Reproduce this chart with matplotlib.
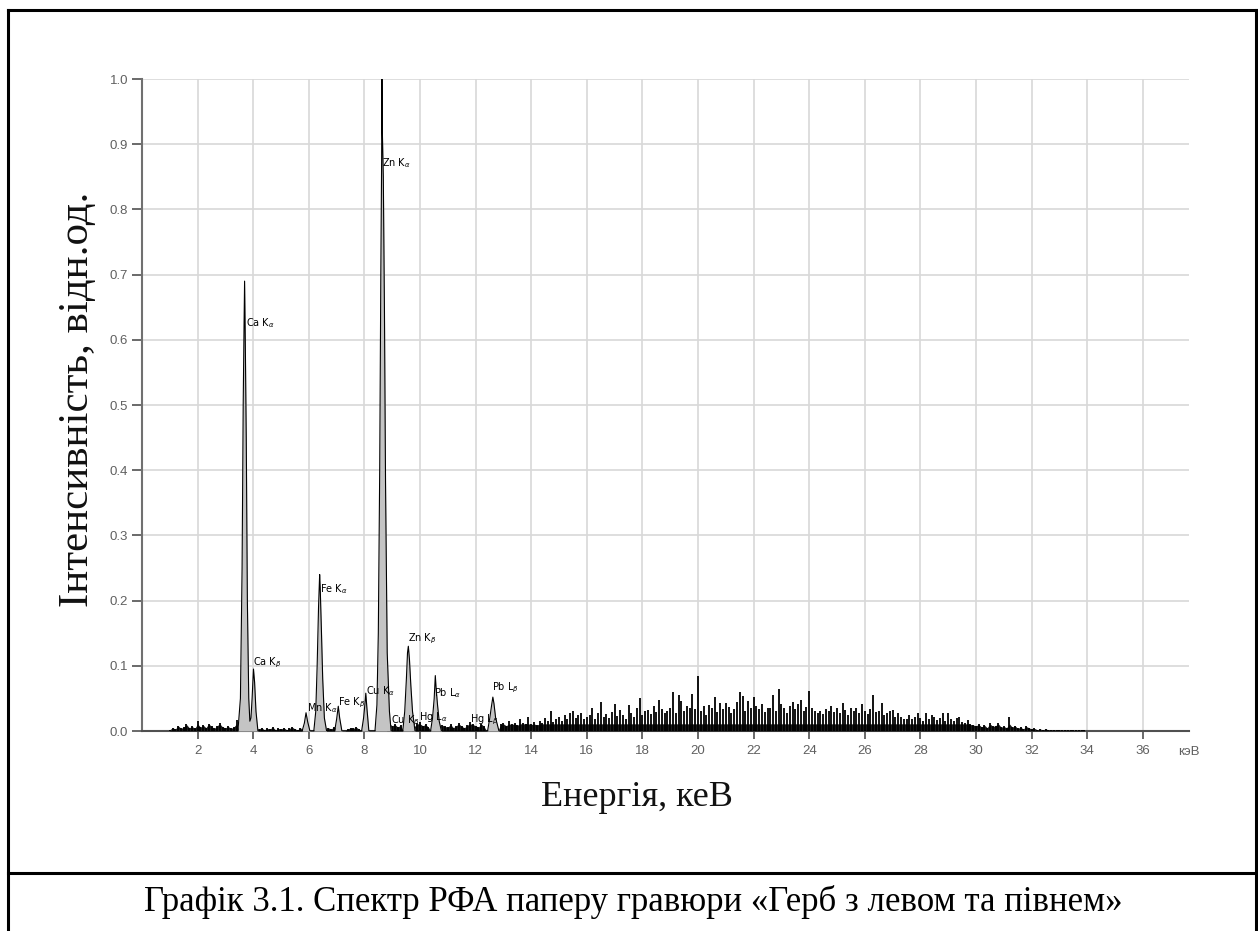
import numpy as np
import matplotlib
matplotlib.use("Agg")
from matplotlib import pyplot as plt
from matplotlib.lines import Line2D

# peak outlines (keV, relative intensity), zero at every base
peak_e = [3.45, 3.54, 3.60, 3.64, 3.67, 3.69, 3.71, 3.75, 3.79, 3.84, 3.88,
          3.92, 3.96, 4.01, 4.05, 4.10, 4.17,
          5.76, 5.84, 5.90, 5.96, 6.04,
          6.18, 6.25, 6.30, 6.35, 6.39, 6.41, 6.45, 6.50, 6.56, 6.64,
          6.93, 7.00, 7.06, 7.11, 7.19,
          7.90, 7.97, 8.02, 8.05, 8.09, 8.16,
          8.38, 8.45, 8.50, 8.55, 8.59, 8.62, 8.63, 8.64, 8.68, 8.72, 8.76, 8.82, 8.90, 8.96,
          9.38, 9.45, 9.51, 9.55, 9.58, 9.62, 9.67, 9.73, 9.82,
          10.38, 10.45, 10.51, 10.55, 10.58, 10.63, 10.69, 10.77,
          12.43, 12.51, 12.57, 12.62, 12.66, 12.72, 12.84]
peak_i = [0.0, 0.05, 0.25, 0.50, 0.62, 0.69, 0.62, 0.45, 0.20, 0.05, 0.015,
          0.02, 0.05, 0.095, 0.075, 0.03, 0.0,
          0.0, 0.012, 0.028, 0.014, 0.0,
          0.0, 0.03, 0.10, 0.19, 0.24, 0.22, 0.16, 0.08, 0.02, 0.0,
          0.0, 0.018, 0.038, 0.02, 0.0,
          0.0, 0.02, 0.042, 0.058, 0.035, 0.0,
          0.0, 0.04, 0.15, 0.40, 0.70, 0.88, 1.0, 0.93, 0.85, 0.65, 0.38, 0.12, 0.03, 0.0,
          0.0, 0.03, 0.08, 0.12, 0.13, 0.11, 0.07, 0.03, 0.0,
          0.0, 0.02, 0.05, 0.085, 0.065, 0.04, 0.015, 0.0,
          0.0, 0.02, 0.038, 0.052, 0.042, 0.02, 0.0]

# background spikes, one per 0.1 keV from 1.0 keV, in thousandths
noise_start = 1.0
noise = [2, 5, 3, 8, 4, 6, 10, 5, 7, 4,
         15, 6, 9, 5, 11, 7, 4, 8, 12, 6,
         5, 7, 4, 6, 17, 0, 0, 0, 0, 0,
         0, 0, 3, 5, 2, 4, 3, 6, 2, 4,
         3, 5, 2, 4, 6, 3, 2, 5, 0, 0,
         0, 0, 0, 0, 0, 0, 0, 5, 3, 6,
         4, 0, 0, 0, 3, 5, 4, 6, 3, 0,
         0, 0, 0, 0, 0, 0, 0, 0, 0, 12,
         8, 10, 6, 9, 0, 0, 0, 0, 7, 12,
         14, 8, 10, 6, 0, 0, 0, 0, 9, 7,
         6, 10, 5, 8, 12, 7, 5, 9, 14, 10,
         8, 6, 11, 7, 0, 0, 0, 0, 0, 10,
         12, 8, 15, 10, 13, 9, 18, 12, 11, 22,
         10, 14, 9, 16, 12, 20, 15, 31, 14, 18,
         22, 16, 25, 19, 28, 31, 20, 24, 27, 18,
         21, 25, 36, 19, 27, 44, 22, 26, 20, 29,
         41, 23, 32, 25, 19, 40, 28, 22, 35, 50,
         24, 30, 32, 26, 38, 29, 47, 33, 27, 31,
         36, 60, 28, 55, 46, 30, 39, 35, 56, 34,
         85, 30, 38, 24, 40, 36, 52, 29, 43, 33,
         43, 37, 28, 34, 45, 60, 53, 30, 46, 35,
         52, 38, 33, 41, 29, 36, 35, 55, 30, 64,
         42, 36, 28, 39, 45, 33, 41, 48, 30, 37,
         62, 35, 31, 28, 31, 26, 33, 30, 38, 29,
         36, 27, 43, 32, 25, 36, 30, 35, 28, 41,
         30, 26, 34, 55, 29, 31, 43, 25, 27, 30,
         32, 22, 28, 21, 19, 19, 24, 18, 22, 27,
         20, 16, 27, 18, 25, 22, 17, 20, 27, 15,
         27, 18, 16, 20, 21, 14, 12, 17, 10, 9,
         8, 10, 6, 9, 5, 13, 7, 8, 12, 6,
         7, 5, 21, 6, 8, 4, 6, 3, 7, 5,
         3, 4, 2, 3, 2, 3, 2, 2, 2, 1,
         2, 1, 2, 1, 2, 1, 1, 2, 1, 1]

# line labels: text, keV, intensity
line_names = [r"Ca K$_\alpha$", r"Ca K$_\beta$", r"Mn K$_\alpha$", r"Fe K$_\alpha$", r"Fe K$_\beta$",
              r"Cu K$_\alpha$", r"Zn K$_\alpha$", r"Cu K$_\beta$", r"Zn K$_\beta$", r"Hg L$_\alpha$",
              r"Pb L$_\alpha$", r"Hg L$_\beta$", r"Pb L$_\beta$"]
line_e = [3.73, 4.00, 5.92, 6.42, 7.04, 8.04, 8.65, 8.95, 9.55, 9.95, 10.50, 11.80, 12.60]
line_y = [0.626, 0.104, 0.035, 0.218, 0.044, 0.061, 0.871, 0.015, 0.141, 0.021, 0.058, 0.017, 0.066]

x_ticks = list(range(2, 37, 2))
y_ticks = [i / 10 for i in range(11)]

W, H = 1258, 931
fig = plt.figure(figsize=(W / 100, H / 100), dpi=100)
fig.patch.set_facecolor("white")

ax = fig.add_axes([142 / W, 1 - 731 / H, (1189 - 142) / W, (731 - 79) / H])

noise_e = noise_start + 0.1 * np.arange(len(noise))
noise_h = np.array(noise) / 1000.0
# dense dark floor under the spikes, then the spikes themselves
ax.fill_between(noise_e, 0, np.minimum(noise_h, 0.011), color="#1a1a1a", lw=0, zorder=3)
ax.vlines(noise_e, 0, noise_h, color="black", lw=1.3, zorder=3)

ax.fill_between(peak_e, 0, peak_i, color="#c4c4c4", lw=0, zorder=4)
ax.plot(peak_e, peak_i, color="black", lw=0.8, zorder=5)

for name, e, y in zip(line_names, line_e, line_y):
    ax.text(e, y, name, fontsize=7, ha="left", va="center", color="black", zorder=6)

ax.set_xlim(0, 37.66)
ax.set_ylim(0, 1.0)
ax.set_xticks(x_ticks)
ax.set_yticks(y_ticks)
ax.set_yticklabels(["%.1f" % v for v in y_ticks])
ax.grid(True, color="#d8d8d8", lw=1.2, zorder=0)
ax.set_axisbelow(True)
for s in ("top", "right"):
    ax.spines[s].set_visible(False)
ax.spines["left"].set_color("#707070")
ax.spines["left"].set_linewidth(1.5)
ax.spines["bottom"].set_color("#505050")
ax.spines["bottom"].set_linewidth(1.5)
ax.tick_params(axis="y", length=7, width=1.2, color="#505050", pad=3,
               labelsize=9.5, labelcolor="#606060")
ax.tick_params(axis="x", length=6, width=1.2, color="#505050", pad=4,
               labelsize=9.5, labelcolor="#606060")
for lab in ax.get_xticklabels() + ax.get_yticklabels():
    lab.set_family("Liberation Sans")
ax.text(37.66, -0.032, "кэВ", fontsize=9.5, color="#606060", ha="center", va="center",
        family="Liberation Sans", clip_on=False)

fig.text(78 / W, 1 - 399 / H, "Інтенсивність, відн.од.", rotation=90, fontsize=31,
         family="Liberation Serif", ha="center", va="center", color="#111111")
fig.text(637 / W, 1 - 797 / H, "Енергія, кеВ", fontsize=26,
         family="Liberation Serif", ha="center", va="center", color="#111111")
fig.text(633 / W, 1 - 902 / H, "Графік 3.1. Спектр РФА паперу гравюри «Герб з левом та півнем»",
         fontsize=25, family="Liberation Serif", ha="center", va="center", color="black")

# outer frame
frame = dict(color="black", lw=2.2)
fig.add_artist(Line2D([8 / W, 1256 / W], [1 - 10 / H, 1 - 10 / H], **frame))
fig.add_artist(Line2D([8 / W, 8 / W], [0, 1 - 10 / H], **frame))
fig.add_artist(Line2D([1256 / W, 1256 / W], [0, 1 - 10 / H], **frame))
fig.add_artist(Line2D([8 / W, 1256 / W], [1 - 873 / H, 1 - 873 / H], **frame))

fig.savefig("out.png", dpi=100)
